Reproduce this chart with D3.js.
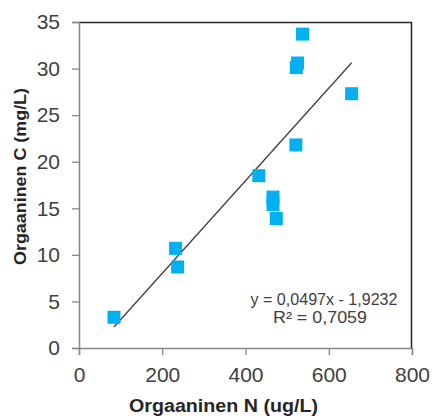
<!DOCTYPE html>
<html>
<head>
<meta charset="utf-8">
<script src="https://cdn.jsdelivr.net/npm/d3@7"></script>
<style>
  body { margin: 0; background: #fff; }
  text { font-family: "Liberation Sans", Arial, sans-serif; }
</style>
</head>
<body>
<div id="chart"></div>
<script>
// data
const nValues = [84, 232, 237, 432, 521, 655, 525, 522, 537, 466, 466, 474];
const cValues = [3.3, 10.7, 8.7, 18.5, 21.8, 27.3, 30.6, 30.1, 33.7, 16.2, 15.4, 13.9];
const xTicks = [0, 200, 400, 600, 800];
const yTicks = [0, 5, 10, 15, 20, 25, 30, 35];
const trend = { slope: 0.0497, intercept: -1.9232, r2: "0,7059" };

const width = 433, height = 419;
const margin = { top: 22, right: 21, bottom: 71, left: 79 };
const w = width - margin.left - margin.right,
      h = height - margin.top - margin.bottom;

const svg = d3.select("#chart").append("svg")
  .attr("width", width).attr("height", height);
const g = svg.append("g").attr("transform", `translate(${margin.left},${margin.top})`);

const x = d3.scaleLinear().domain([0, 800]).range([0, w]);
const y = d3.scaleLinear().domain([0, 35]).range([h, 0]);

// top and right border
g.append("path")
  .attr("d", `M0,0.5H${w - 0.5}V${h}`)
  .attr("fill", "none").attr("stroke", "#262626").attr("stroke-width", 1.5);

const xAxis = g.append("g").attr("transform", `translate(0,${h})`)
  .call(d3.axisBottom(x).tickValues(xTicks).tickSize(7).tickPadding(12).tickFormat(d3.format("d")));
const yAxis = g.append("g")
  .call(d3.axisLeft(y).tickValues(yTicks).tickSize(7).tickPadding(12).tickFormat(d3.format("d")));

[xAxis, yAxis].forEach(a => {
  a.select(".domain").attr("stroke", "#868686").attr("stroke-width", 1.5);
  a.selectAll(".tick line").attr("stroke", "#868686").attr("stroke-width", 1.3);
  a.selectAll(".tick text").attr("fill", "#404040")
    .style("font-size", "21px").style("font-family", "'Liberation Sans', Arial, sans-serif");
});

// trendline over the data range
const xmin = d3.min(nValues), xmax = d3.max(nValues);
g.append("line")
  .attr("x1", x(xmin)).attr("y1", y(trend.slope * xmin + trend.intercept))
  .attr("x2", x(xmax)).attr("y2", y(trend.slope * xmax + trend.intercept))
  .attr("stroke", "#404040").attr("stroke-width", 1.3);

// square markers
const s = 13;
g.selectAll("rect.pt").data(nValues.map((n, i) => [n, cValues[i]]))
  .enter().append("rect").attr("class", "pt")
  .attr("x", d => x(d[0]) - s / 2).attr("y", d => y(d[1]) - s / 2)
  .attr("width", s).attr("height", s)
  .attr("fill", "#00B0F0");

// equation
const eq = svg.append("text").attr("text-anchor", "middle")
  .attr("fill", "#404040").style("font-size", "16px");
eq.append("tspan").attr("x", 324).attr("y", 305)
  .attr("textLength", 147).attr("lengthAdjust", "spacingAndGlyphs")
  .text("y = 0,0497x - 1,9232");
eq.append("tspan").attr("x", 320).attr("y", 323)
  .attr("textLength", 94).attr("lengthAdjust", "spacingAndGlyphs")
  .text("R² = " + trend.r2);

// axis titles
svg.append("text").attr("x", 223.5).attr("y", 412)
  .attr("text-anchor", "middle").attr("fill", "#262626")
  .attr("textLength", 189).attr("lengthAdjust", "spacingAndGlyphs")
  .style("font-size", "18px").style("font-weight", "bold")
  .text("Orgaaninen N (ug/L)");
svg.append("text")
  .attr("transform", "translate(26,176.5) rotate(-90)")
  .attr("text-anchor", "middle").attr("fill", "#262626")
  .attr("textLength", 177).attr("lengthAdjust", "spacingAndGlyphs")
  .style("font-size", "17px").style("font-weight", "bold")
  .text("Orgaaninen C (mg/L)");
</script>
</body>
</html>
